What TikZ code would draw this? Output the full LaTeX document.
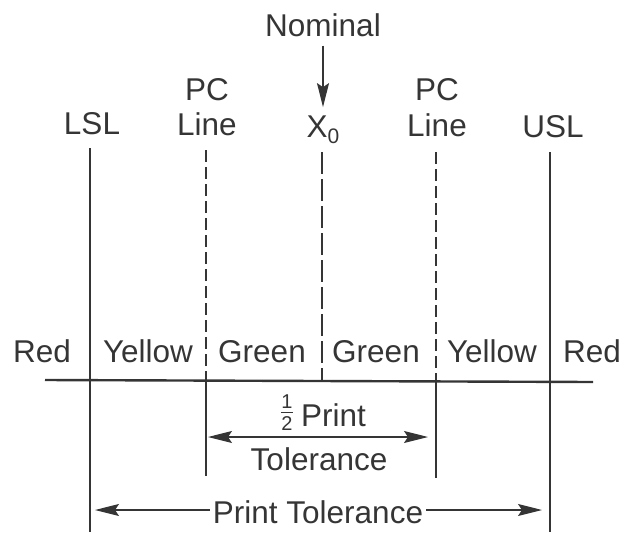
\documentclass[tikz,border=0pt]{standalone}
\usepackage{fontspec}
\setmainfont{Liberation Sans}
\usetikzlibrary{arrows.meta}
\definecolor{ink}{HTML}{353535}
\begin{document}
\begin{tikzpicture}[x=1pt,y=-1pt,
  >={Stealth[length=24pt,width=12pt,inset=4pt]},
  lbl/.style={font=\fontsize{31.5}{36}\selectfont, text=ink, inner sep=0pt, anchor=base},
  fracdigit/.style={font=\fontsize{20}{20}\selectfont, text=ink, inner sep=0pt, anchor=base},
  limitline/.style={draw=ink, line width=1.3pt},
  pcdash/.style={draw=ink, line width=1.3pt, dash pattern=on 12pt off 5pt},
  nomdash/.style={draw=ink, line width=1.3pt, dash pattern=on 22pt off 5pt},
  axisline/.style={draw=ink, line width=2.4pt},
  dimline/.style={draw=ink, line width=1.2pt}
]
\useasboundingbox (0,0) rectangle (623,541);

% headings
\node[lbl] (nom) at (323,36) {Nominal};
\node[lbl] (pcL) at (207,100) {PC};
\node[lbl] (lineL) at (207,135) {Line};
\node[lbl] (pcR) at (437,100) {PC};
\node[lbl] (lineR) at (437,136) {Line};
\node[lbl] (lsl) at (92,134) {LSL};
\node[lbl] (usl) at (553,137) {USL};
\node[lbl] (x0) at (323,137) {X\raisebox{-0.22em}{\fontsize{21}{21}\selectfont 0}};

% nominal pointer
\draw[dimline, ->, shorten <=9pt, shorten >=8pt] (nom.south) -- (nom.south |- x0.north);

% end points of the vertical lines
\coordinate (lslT) at (90,148);  \coordinate (lslB) at (90,532);
\coordinate (pclT) at (206,150); \coordinate (pclM) at (206,380); \coordinate (pclB) at (206,476);
\coordinate (nomT) at (322,152); \coordinate (nomB) at (322,380);
\coordinate (pcrT) at (436,152); \coordinate (pcrM) at (436,380); \coordinate (pcrB) at (436,478);
\coordinate (uslT) at (550,152); \coordinate (uslB) at (550,532);

\draw[limitline] (lslT) -- (lslB);
\draw[limitline] (uslT) -- (uslB);
\draw[pcdash] (pclT) -- (pclM);
\draw[nomdash] (nomT) -- (nomB);
\draw[pcdash] (pcrT) -- (pcrM);
\draw[limitline] (pclM) -- (pclB);
\draw[limitline] (pcrM) -- (pcrB);

% zone scale
\coordinate (axL) at (45,380);
\coordinate (axR) at (593,382);
\draw[axisline] (axL) -- (axR);

\node[lbl] (z1) at (42,362) {Red};
\node[lbl] (z2) at (148,362) {Yellow};
\node[lbl] (z3) at (262,362) {Green};
\node[lbl] (z4) at (376,362) {Green};
\node[lbl] (z5) at (492,362) {Yellow};
\node[lbl] (z6) at (592,362) {Red};

% half print tolerance
\node[fracdigit] (one) at (287,408) {1};
\node[fracdigit] (two) at (287,430) {2};
\draw[dimline, line width=1pt] ([xshift=-6pt,yshift=3pt]two.north) -- ([xshift=6pt,yshift=3pt]two.north);
\node[lbl, anchor=base west] (hprint) at (301,426) {Print};
\node[lbl] (htol) at (319,470) {Tolerance};
\coordinate (hL) at (208,437);
\coordinate (hR) at (428,437);
\draw[dimline, <->] (hL) -- (hR);

% full print tolerance
\node[lbl, inner xsep=3pt] (ptol) at (318,523) {Print Tolerance};
\coordinate (pL) at (95,510);
\coordinate (pR) at (542,510);
\draw[dimline, ->] (ptol.west |- pL) -- (pL);
\draw[dimline, ->] (ptol.east |- pR) -- (pR);
\end{tikzpicture}
\end{document}
